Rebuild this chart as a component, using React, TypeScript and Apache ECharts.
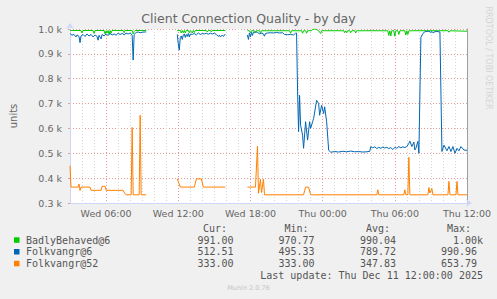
import React, { useEffect, useRef } from 'react';
import * as echarts from 'echarts';

// x: minutes since Wed 00:00 (Dec 10 2025); null = no data (gap)
type Pt = [number, number | null];

const seriesNames = ['BadlyBehaved@6', 'Folkvangr@6', 'Folkvangr@52'];
const seriesColors = ['#00cc00', '#0066b3', '#ff8000'];

const badlyBehaved: Pt[] = [
  [180, 994], [235, 994], [240, 984], [245, 994], [295, 994], [300, 982], [305, 994],
  [350, 994], [355, 980], [360, 993], [365, 984], [370, 994], [375, 978], [380, 994],
  [385, 983], [390, 994], [445, 994], [450, 985], [455, 994], [490, 994], [495, 980],
  [500, 990], [505, 994], [560, 994],
  [600, null],
  [715, 994], [730, 994], [735, 984], [740, 994], [745, 985], [750, 994], [755, 984],
  [760, 994], [770, 994], [775, 985], [780, 994], [790, 984], [795, 994], [800, 986],
  [805, 994], [860, 994], [865, 988], [870, 994], [880, 994], [885, 988], [890, 994],
  [955, 994],
  [1000, null],
  [1065, 993], [1075, 993], [1080, 984], [1085, 993], [1100, 993], [1105, 985], [1110, 993],
  [1125, 993], [1130, 983], [1135, 993], [1275, 993], [1280, 983], [1285, 993], [1335, 993],
  [1340, 983], [1345, 993], [1355, 993], [1360, 983], [1365, 993], [1385, 993], [1390, 998],
  [1400, 1000], [1410, 998], [1420, 993], [1430, 982], [1435, 993], [1545, 993], [1550, 985],
  [1555, 993], [1560, 985], [1565, 993], [1575, 993], [1580, 985], [1585, 993], [1600, 993],
  [1605, 984], [1610, 993], [1765, 993], [1770, 974], [1775, 993], [1780, 972], [1785, 993],
  [1795, 993], [1800, 971], [1805, 993], [1815, 993], [1820, 978], [1825, 993], [1850, 993],
  [1855, 976], [1860, 993], [1865, 978], [1870, 993], [2065, 993], [2070, 987], [2075, 993],
  [2160, 991],
];

const folkvangr6: Pt[] = [
  [180, 982], [190, 975], [200, 978], [210, 968], [215, 976], [225, 970], [230, 945],
  [235, 972], [245, 978], [255, 970], [265, 980], [275, 972], [285, 978], [295, 968],
  [305, 976], [315, 970], [320, 955], [325, 975], [335, 960], [340, 978], [350, 972],
  [360, 980], [370, 974], [380, 982], [390, 976], [400, 980], [410, 975], [420, 983],
  [430, 978], [440, 982], [450, 977], [460, 983], [470, 980], [480, 984], [485, 980],
  [490, 975], [495, 875], [500, 978], [510, 986], [520, 988], [530, 985], [540, 987],
  [550, 988], [560, 988],
  [600, null],
  [715, 978], [720, 940], [725, 915], [730, 965], [735, 972], [740, 958], [745, 976],
  [750, 980], [755, 966], [760, 978], [765, 970], [770, 982], [775, 968], [780, 980],
  [790, 978], [800, 982], [810, 976], [820, 984], [830, 978], [840, 982], [850, 980],
  [860, 983], [870, 979], [880, 983], [890, 980], [900, 983], [910, 978], [920, 970],
  [925, 975], [930, 968], [940, 976], [945, 970], [955, 980],
  [1000, null],
  [1065, 976], [1070, 958], [1075, 984], [1080, 968], [1085, 986], [1090, 974], [1095, 988],
  [1100, 985], [1105, 989], [1115, 986], [1125, 981], [1135, 983], [1145, 980], [1150, 971],
  [1155, 982], [1165, 984], [1180, 985], [1195, 984], [1210, 986], [1225, 984], [1240, 985],
  [1250, 978], [1265, 977], [1280, 978], [1295, 976], [1305, 983], [1310, 984],
  [1315, 750], [1320, 587], [1325, 733], [1330, 613], [1340, 573], [1345, 520], [1355, 627],
  [1365, 553], [1375, 627], [1380, 600], [1390, 627], [1395, 640], [1410, 713], [1420, 700],
  [1425, 653], [1435, 693], [1445, 660], [1450, 687], [1460, 627], [1470, 513], [1480, 504],
  [1500, 507], [1520, 505], [1540, 508], [1560, 506], [1580, 509], [1600, 506], [1620, 507],
  [1640, 505], [1660, 506], [1675, 508], [1680, 527], [1690, 522], [1700, 526], [1710, 519],
  [1720, 524], [1730, 520], [1740, 525], [1750, 521], [1760, 524], [1770, 519], [1780, 523],
  [1790, 515], [1800, 524], [1810, 520], [1820, 527], [1830, 522], [1840, 526], [1850, 523],
  [1860, 527], [1870, 540], [1875, 549], [1885, 527], [1895, 545], [1900, 513], [1905, 520],
  [1915, 548], [1920, 500], [1930, 966], [1940, 982], [1950, 989], [1960, 990], [1970, 991],
  [1980, 986], [1985, 990], [1990, 985], [2000, 989], [2010, 990], [2025, 988], [2035, 507],
  [2045, 533], [2060, 510], [2070, 527], [2080, 507], [2090, 527], [2100, 500], [2110, 520],
  [2120, 510], [2130, 527], [2145, 513], [2160, 512],
];

const folkvangr52: Pt[] = [
  [180, 450], [185, 364], [220, 364], [225, 376], [230, 350], [235, 364], [280, 364],
  [285, 351], [335, 351], [340, 367], [355, 367], [360, 351], [445, 351], [452, 340],
  [460, 333], [485, 333], [490, 604], [495, 333], [525, 333], [530, 653], [535, 333],
  [560, 333],
  [600, null],
  [715, 397], [730, 364], [800, 364], [810, 397], [835, 397], [845, 364], [955, 364],
  [1000, null],
  [1065, 364], [1105, 364], [1115, 529], [1120, 339], [1130, 395], [1135, 342], [1145, 395],
  [1150, 333], [1345, 333], [1355, 364], [1370, 364], [1380, 333], [1710, 333], [1715, 353],
  [1720, 333], [1845, 333], [1850, 353], [1855, 333], [1865, 333], [1870, 484], [1875, 333],
  [1965, 333], [1970, 362], [1975, 340], [1985, 358], [1990, 333], [2065, 333], [2070, 387],
  [2075, 333], [2105, 333], [2110, 387], [2115, 333], [2160, 333],
];

const legendHeaders = ['Cur:', 'Min:', 'Avg:', 'Max:'];
const legendStats = [
  ['991.00', '970.77', '990.04', '1.00k'],
  ['512.51', '495.33', '789.72', '990.96'],
  ['333.00', '333.00', '347.83', '653.79'],
];
const lastUpdate = 'Last update: Thu Dec 11 12:00:00 2025';
const titleText = 'Client Connection Quality - by day';

const X_MIN = 3; // Wed 03:00 (hours since Wed 00:00)
const X_MAX = 36; // Thu 12:00

const toSeriesData = (pts: Pt[]) => pts.map(([m, v]) => [m / 60, v === null ? '-' : v]);

export default function App() {
  const ref = useRef<HTMLDivElement>(null);
  useEffect(() => {
    if (!ref.current) return;
    const chart = echarts.init(ref.current, undefined, { renderer: 'svg' });
    const font = 'DejaVu Sans';
    const mono = 'DejaVu Sans Mono';
    const txt = '#666';
    const legTxt = '#555';
    const rowY = [240, 251.7, 263.5];
    const colRight = [233.5, 314.5, 396, 477];
    const headerX = [203, 284.5, 366, 447];
    const graphic: any[] = [];
    legendHeaders.forEach((h, i) => {
      graphic.push({ type: 'text', x: headerX[i], y: 228.5, style: { text: h, fontFamily: mono, fontSize: 10, fill: legTxt, align: 'left', verticalAlign: 'middle' } });
    });
    seriesNames.forEach((n, r) => {
      graphic.push({ type: 'rect', shape: { x: 14, y: rowY[r] - 2.7, width: 5.5, height: 5.5 }, style: { fill: seriesColors[r] } });
      graphic.push({ type: 'text', x: 26, y: rowY[r], style: { text: n, fontFamily: mono, fontSize: 10, fill: legTxt, align: 'left', verticalAlign: 'middle' } });
      legendStats[r].forEach((s, c) => {
        const hasSuffix = /[a-zA-Z]$/.test(s);
        graphic.push({ type: 'text', x: colRight[c] + (c === 3 && hasSuffix ? 6 : 0), y: rowY[r], style: { text: s, fontFamily: mono, fontSize: 10, fill: legTxt, align: 'right', verticalAlign: 'middle' } });
      });
    });
    graphic.push({ type: 'text', x: 483, y: 275.7, style: { text: lastUpdate, fontFamily: mono, fontSize: 10, fill: legTxt, align: 'right', verticalAlign: 'middle' } });
    graphic.push({ type: 'text', x: 248.5, y: 288, style: { text: 'Munin 2.0.76', fontFamily: font, fontSize: 6.5, fill: '#c4c4c4', align: 'center', verticalAlign: 'middle' } });
    graphic.push({ type: 'text', x: 488, y: 58, rotation: -Math.PI / 2, style: { text: 'RRDTOOL / TOBI OETIKER', fontFamily: font, fontSize: 8, fill: '#d4d4d4', align: 'center', verticalAlign: 'middle' } });

    const minor = '#d6d6d6';
    const major = '#e69a9a';
    const xSplitColors = [minor, minor, minor, major, minor, minor];

    chart.setOption({
      animation: false,
      backgroundColor: '#f0f0f0',
      title: {
        text: titleText, left: 'center', top: 12, padding: 0,
        textStyle: { fontFamily: font, fontSize: 12.5, fontWeight: 'normal', color: txt },
      },
      grid: { left: 67, top: 29, width: 400, height: 174, show: true, backgroundColor: '#ffffff', borderWidth: 0 },
      xAxis: {
        type: 'value', min: X_MIN, max: X_MAX, interval: 1,
        axisLine: { show: true, lineStyle: { color: '#cfd6f8', width: 1 }, symbol: ['none', 'arrow'], symbolSize: [6, 6], symbolOffset: [0, 5] },
        axisTick: { show: false },
        axisLabel: {
          margin: 5, fontFamily: font, fontSize: 9.5, color: txt, showMinLabel: true, showMaxLabel: true,
          formatter: (v: number) => {
            if (Math.round(v) % 6 !== 0) return '';
            const day = v < 24 ? 'Wed' : 'Thu';
            const hh = Math.round(v) % 24;
            return `${day} ${hh < 10 ? '0' : ''}${hh}:00`;
          },
        },
        splitLine: { show: true, lineStyle: { color: xSplitColors, type: [1, 2], width: 1 } },
      },
      yAxis: [
        {
          type: 'value', min: 300, max: 1000, interval: 100,
          name: 'units', nameLocation: 'middle', nameGap: 52, nameRotate: 90,
          nameTextStyle: { fontFamily: font, fontSize: 10, color: txt },
          axisLine: { show: true, lineStyle: { color: '#cfd6f8', width: 1 }, symbol: ['none', 'arrow'], symbolSize: [6, 6], symbolOffset: [0, 6] },
          axisTick: { show: true, length: 2, lineStyle: { color: major } },
          axisLabel: { margin: 8, fontFamily: font, fontSize: 9.5, color: txt, formatter: (v: number) => `${(v / 1000).toFixed(1)} k` },
          splitLine: { show: true, lineStyle: { color: major, type: [1, 2], width: 1 } },
        },
        {
          type: 'value', min: 300, max: 1000, position: 'right',
          axisLine: { show: true, lineStyle: { color: '#a0a0a0', width: 1 } },
          axisTick: { show: false }, axisLabel: { show: false }, splitLine: { show: false },
        },
      ],
      series: [badlyBehaved, folkvangr6, folkvangr52].map((pts, i) => ({
        name: seriesNames[i], type: 'line', data: toSeriesData(pts), showSymbol: false, symbol: 'none',
        lineStyle: { color: seriesColors[i], width: 1 }, itemStyle: { color: seriesColors[i] },
        connectNulls: false, silent: true,
      })),
      graphic,
    });
    return () => chart.dispose();
  }, []);
  return <div ref={ref} style={{ position: 'fixed', left: 0, top: 0, width: 497, height: 299 }} />;
}
